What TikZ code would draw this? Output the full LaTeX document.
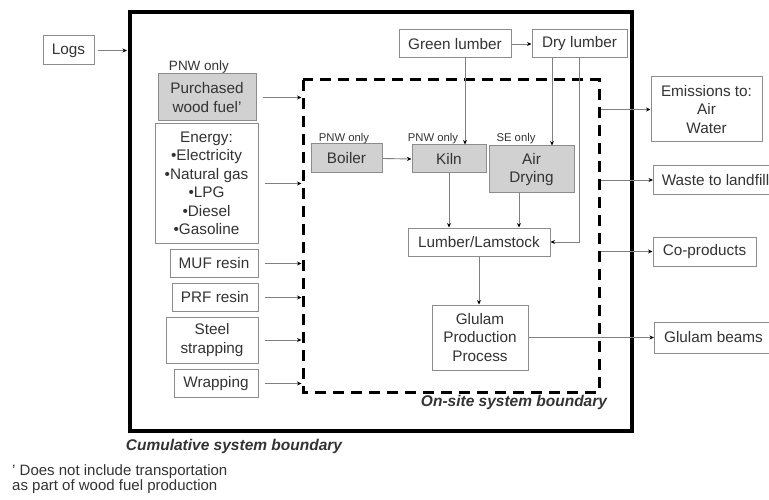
\documentclass[tikz,border=0pt]{standalone}
\usepackage{fontspec}
\setmainfont{Liberation Sans}
\usetikzlibrary{arrows.meta}
\definecolor{boxline}{gray}{0.55}
\definecolor{boxfill}{gray}{0.82}
\definecolor{inkgray}{gray}{0.2}
\begin{document}
\begin{tikzpicture}
[x=1pt,y=-1pt,
  boxDecorate/.style={draw=boxline,line width=1pt,align=center,inner sep=1pt,
    text=inkgray,font=\fontsize{15.3}{18.5}\selectfont},%
  grayDecorate/.style={boxDecorate,fill=boxfill},%
  noteDecorate/.style={text=inkgray,inner sep=0pt,font=\fontsize{11.3}{12}\selectfont},%
  labelDecorate/.style={text=inkgray,inner sep=0pt,font=\fontsize{15.5}{17}\selectfont\bfseries\itshape},%
  arrowDecorate/.style={draw=gray,line width=0.9pt,-{Stealth[length=4.5pt,width=4pt,color=black]}},%
  boundDecorate/.style={draw=black,line width=3pt,dash pattern=on 11pt off 7pt}]
\useasboundingbox[fill=white] (0,0) rectangle (769,500);
%% boundaries
\coordinate (cumNW) at (130,12);
\coordinate (cumSE) at (632,431);
\coordinate (onNW) at (303,80);
\coordinate (onSE) at (599,392);
\draw[line width=4pt] (cumNW) rectangle (cumSE);
\draw[boundDecorate] (onNW) rectangle (onSE);
\node[labelDecorate] (onLabel) at (514,402) {On-site system boundary};
\node[labelDecorate] (cumLabel) at (234,446) {Cumulative system boundary};
%% inputs
\node[boxDecorate,minimum width=51,minimum height=29] (logs) at (68.5,50.5) {Logs};
\node[grayDecorate,minimum width=98,minimum height=47] (fuel) at (207,97.5) {Purchased\\wood fuel'};
\node[noteDecorate,font=\fontsize{13.5}{15}\selectfont] (fuelNote) at (199,67) {PNW only};
\node[boxDecorate,minimum width=103,minimum height=119] (energy) at (206.5,183.5)
  {Energy:\\•Electricity\\•Natural gas\\•LPG\\•Diesel\\•Gasoline};
\foreach \nodename/\x/\y/\w/\txt in {muf/214/263.5/88/MUF resin, prf/215/297.5/86/PRF resin, wrap/216/383.5/84/Wrapping}
{
  \node (\nodename) at (\x,\y) [boxDecorate,minimum width=\w,minimum height=28] {\txt};
}
\node[boxDecorate,minimum width=92,minimum height=46] (steel) at (212,340) {Steel\\strapping};
%% on-site processes
\node[boxDecorate,minimum width=112,minimum height=28] (green) at (455,44) {Green lumber};
\node[boxDecorate,minimum width=95,minimum height=28] (dry) at (579.5,44) {Dry lumber};
\node[grayDecorate,minimum width=71,minimum height=29] (boiler) at (346.5,158.5) {Boiler};
\node[grayDecorate,minimum width=74,minimum height=28] (kiln) at (449,159) {Kiln};
\node[grayDecorate,minimum width=85,minimum height=47] (air) at (531.5,169.5) {Air\\Drying};
\node[noteDecorate] (boilerNote) at (344,139) {PNW only};
\node[noteDecorate] (kilnNote) at (433,139) {PNW only};
\node[noteDecorate] (airNote) at (516,139) {SE only};
\node[boxDecorate,minimum width=142,minimum height=28] (lumber) at (479,242) {Lumber/Lamstock};
\node[boxDecorate,minimum width=96,minimum height=65] (glulam) at (480,337.5) {Glulam\\Production\\Process};
%% outputs
\node[boxDecorate,minimum width=111,minimum height=65] (emis) at (706.5,109.5) {Emissions to:\\Air\\Water};
\node[boxDecorate,minimum width=124,minimum height=29,anchor=west] (waste) at (653,180) {Waste to landfill};
\node[boxDecorate,minimum width=103,minimum height=29] (coprod) at (704.5,251.5) {Co-products};
\node[boxDecorate,minimum width=118,minimum height=31,anchor=west] (beams) at (654,337.5) {Glulam beams};
%% footnote
\node[noteDecorate,font=\fontsize{15}{15.5}\selectfont,align=left,anchor=north west] (foot) at (12,464)
  {' Does not include transportation\\as part of wood fuel production};
%% edges or lines
\draw[arrowDecorate,shorten <=3pt,shorten >=3pt] (logs.east) -- (logs.east -| cumNW);
\foreach \src in {fuel,energy,muf,prf,steel,wrap}
{
  \draw[arrowDecorate,shorten <=6pt,shorten >=1.5pt] (\src.east) -- (\src.east -| onNW);
}
\draw[arrowDecorate] (green.east) -- (dry.west);
\draw[arrowDecorate] (boiler.east) -- (kiln.west);
\draw[arrowDecorate] ([xshift=10]green.south) -- ([xshift=10]green.south |- kiln.north);
\draw[arrowDecorate] ([xshift=-27.5]dry.south) -- ([xshift=-27.5]dry.south |- air.north);
\draw[arrowDecorate] (dry.south) |- (lumber.east);
\draw[arrowDecorate] (kiln.south) -- (kiln.south |- lumber.north);
\draw[arrowDecorate] ([xshift=-12.5]air.south) -- ([xshift=-12.5]air.south |- lumber.north);
\draw[arrowDecorate] (lumber.south) -- (lumber.south |- glulam.north);
\draw[arrowDecorate] (glulam.east) -- (beams.west);
\foreach \dst in {emis,waste,coprod}
{
  \draw[arrowDecorate,shorten <=1.5pt] (\dst.west -| onSE) -- (\dst.west);
}
\end{tikzpicture}
\end{document}
